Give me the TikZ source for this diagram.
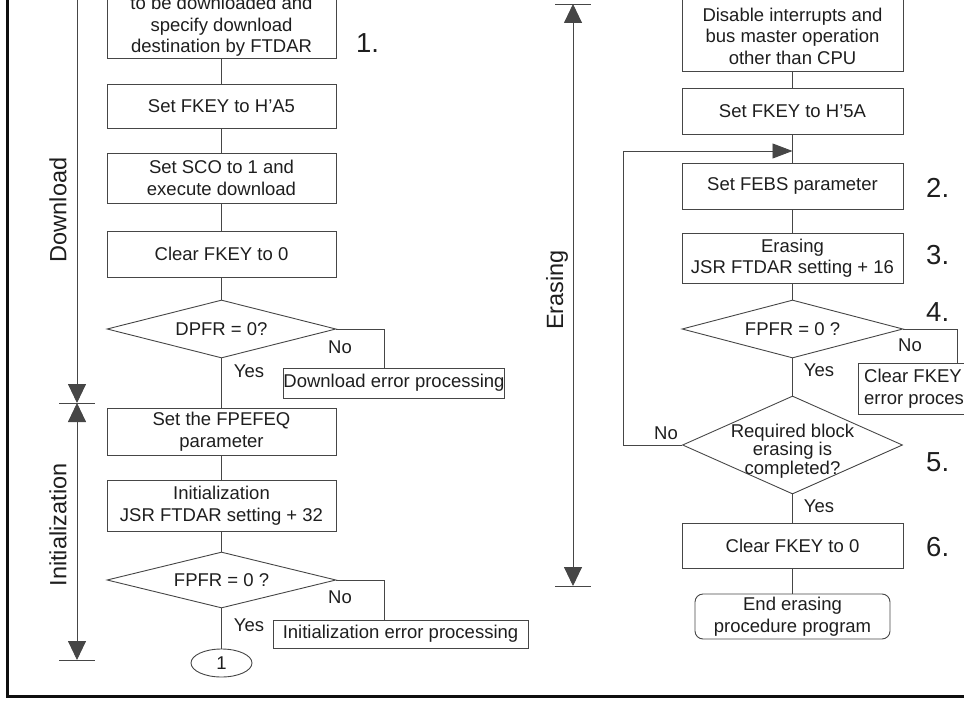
\documentclass[tikz,border=0pt]{standalone}
\usepackage{fontspec}
\setmainfont{Liberation Sans}
\usetikzlibrary{arrows.meta,positioning,shapes.geometric}
\definecolor{fcline}{RGB}{70,70,70}
\definecolor{fctext}{RGB}{30,30,30}
\definecolor{fcframe}{RGB}{15,15,15}
\tikzset{
  procbox/.style={draw=fcline, line width=0.9pt, text=fctext, align=center,
                  font=\fontsize{18.5}{21.5}\selectfont, inner sep=0pt,
                  minimum width=#1, minimum height=46pt},
  procbox/.default=229pt,
  decision/.style={draw=fcline, line width=0.9pt, diamond, aspect=4, text=fctext,
                   font=\fontsize{18.5}{17.5}\selectfont, inner sep=0pt,
                   minimum width=#1, minimum height=58pt},
  decision/.default=229pt,
  errbox/.style={draw=fcline, line width=0.9pt, text=fctext, align=center,
                 font=\fontsize{18.5}{21.5}\selectfont, inner sep=0pt},
  termbox/.style={draw=fcline, line width=0.9pt, rounded corners=8pt, text=fctext,
                  align=center, font=\fontsize{18.5}{21.5}\selectfont, inner sep=0pt},
  conn/.style={draw=fcline, line width=0.9pt, ellipse, text=fctext,
               font=\fontsize{18.5}{21.5}\selectfont, inner sep=0pt,
               minimum width=61pt, minimum height=28pt},
  flow/.style={draw=fcline, line width=0.9pt},
  phase/.style={draw=fcline, line width=0.9pt},
  tick/.style={draw=fcline, line width=0.9pt},
  answer/.style={text=fctext, font=\fontsize{18.5}{21.5}\selectfont, inner sep=0pt},
  steplabel/.style={text=fctext, font=\fontsize{27.5}{30}\selectfont, inner sep=0pt, anchor=west},
  phaselabel/.style={text=fctext, font=\fontsize{23.5}{26}\selectfont, inner sep=0pt, rotate=90},
}

\begin{document}
\begin{tikzpicture}[x=1pt, y=-1pt,
    tip/.style={-{Triangle[length=19pt, width=18pt]}},
    tips/.style={{Triangle[length=19pt, width=18pt]}-{Triangle[length=19pt, width=18pt]}}]
  \useasboundingbox (0,0) rectangle (964,701);
  \clip (0,0) rectangle (964,701);

  % Download and initialization (left column)
  \node (sel) [procbox, anchor=south, inner ysep=2pt] at (221.5,59)
        {\strut\\to be downloaded and\\specify download\\destination by FTDAR};
  \node (fkeya) [procbox, minimum height=44pt] at (221.5,106) {Set FKEY to H'A5};
  \node (sco) [procbox, minimum height=50pt] at (221.5,178) {Set SCO to 1 and\\execute download};
  \node (clra) [procbox] at (221.5,254) {Clear FKEY to 0};
  \node (dpfr) [decision] at (221.5,329) {DPFR = 0?};
  \node (dlerr) [errbox, minimum width=212pt, minimum height=30pt] at (394,383) {Download error processing};
  \node (fpefeq) [procbox, minimum height=47pt] at (221.5,431.5) {Set the FPEFEQ\\parameter};
  \node (init) [procbox, minimum height=51pt] at (221.5,505.5) {Initialization\\JSR FTDAR setting + 32};
  \node (fpfra) [decision, minimum height=56pt] at (221.5,580) {FPFR = 0 ?};
  \node (initerr) [errbox, minimum width=255pt, minimum height=28pt] at (400.5,634) {Initialization error processing};
  \node (one) [conn] at (221.5,663) {1};

  \draw[flow] (sel) -- (fkeya);
  \draw[flow] (fkeya) -- (sco);
  \draw[flow] (sco) -- (clra);
  \draw[flow] (clra) -- (dpfr);
  \draw[flow] (dpfr) -- (fpefeq);
  \draw[flow] (fpefeq) -- (init);
  \draw[flow] (init) -- (fpfra);
  \draw[flow] (fpfra) -- (one);
  \draw[flow] (dpfr.east) -| ([xshift=-10pt]dlerr.north);
  \draw[flow] (fpfra.east) -| ([xshift=-16.5pt]initerr.north);

  \node (dpfrno) [answer] at (340,347) {No};
  \node (dpfryes) [answer] at (249,371) {Yes};
  \node (fpfrano) [answer] at (340,597) {No};
  \node (fpfrayes) [answer] at (249,625) {Yes};
  \node (num1) [steplabel] at (356,43) {1.};

  % Erasing (right column)
  \node (dis) [procbox=221pt, anchor=south, inner ysep=7pt] at (792.5,72)
        {\strut\\Disable interrupts and\\bus master operation\\other than CPU};
  \node (fkeyb) [procbox=221pt] at (792.5,111) {Set FKEY to H'5A};
  \node (febs) [procbox=221pt] at (792.5,186) {Set FEBS parameter};
  \node (erase) [procbox=221pt, minimum height=50pt] at (792.5,258) {Erasing\\JSR FTDAR setting + 16};
  \node (fpfrb) [decision=221pt] at (792.5,329) {FPFR = 0 ?};
  \node (clrerr) [errbox, minimum width=146pt, minimum height=51pt] at (931,388.5) {Clear FKEY and\\error processing};
  \node (req) [decision=220pt, aspect=2.2, minimum height=98pt] at (792.5,445)
        {\smash{\raisebox{-11pt}{\begin{tabular}{@{}c@{}}Required block\\erasing is\\completed?\end{tabular}}}};
  \node (clrb) [procbox=221pt, minimum height=45pt] at (792.5,545.5) {Clear FKEY to 0};
  \node (endp) [termbox, minimum width=195pt, minimum height=45pt] at (792.5,616.5) {End erasing\\procedure program};
  \coordinate (loopin) at (792.5,151);

  \draw[flow] (dis) -- (fkeyb);
  \draw[flow] (fkeyb) -- (febs);
  \draw[flow] (febs) -- (erase);
  \draw[flow] (erase) -- (fpfrb);
  \draw[flow] (fpfrb) -- (req);
  \draw[flow] (req) -- (clrb);
  \draw[flow] (clrb) -- (endp);
  \draw[flow] (fpfrb.east) -| ([xshift=26pt]clrerr.north);
  \draw[flow, -{Triangle[length=20pt, width=15pt]}] (req.west) -- ++(-59,0) |- (loopin);

  \node (fpfrbno) [answer] at (910,345) {No};
  \node (fpfrbyes) [answer] at (819,370) {Yes};
  \node (reqno) [answer] at (666,433) {No};
  \node (reqyes) [answer] at (819,506) {Yes};
  \node (num2) [steplabel] at (926,188) {2.};
  \node (num3) [steplabel] at (926,255) {3.};
  \node (num4) [steplabel] at (926,312) {4.};
  \node (num5) [steplabel] at (926,462) {5.};
  \node (num6) [steplabel] at (926,547) {6.};

  % Phase arrows
  \coordinate (dlstart) at (77,-30);
  \coordinate (dlend) at (77,403);
  \coordinate (inend) at (77,660);
  \coordinate (erstart) at (573,4);
  \coordinate (erend) at (573,586);
  \draw[phase, tip] (dlstart) -- (dlend);
  \draw[phase, tips] (dlend) -- (inend);
  \draw[phase, tips] (erstart) -- (erend);
  \foreach \p in {dlend, inend, erstart, erend}
    \draw[tick] ([xshift=-18pt]\p) -- ([xshift=18pt]\p);
  \node (dllabel) [phaselabel] at (58,210) {Download};
  \node (inlabel) [phaselabel] at (58,525) {Initialization};
  \node (erlabel) [phaselabel] at (557,290) {Erasing};

  % Frame
  \draw[fcframe, line width=3pt] (7,-20) -- (7,696) -- (990,696);
\end{tikzpicture}
\end{document}
